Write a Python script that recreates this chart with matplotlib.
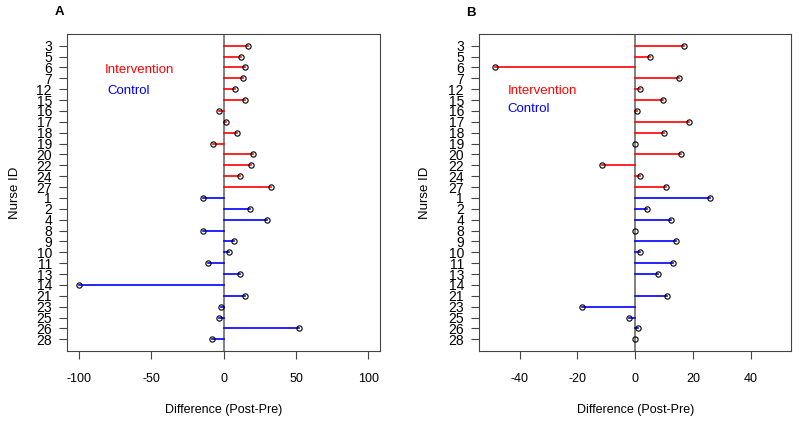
import numpy as np
import matplotlib
matplotlib.use("Agg")
import matplotlib.pyplot as plt

plt.rcParams['font.family'] = ['Liberation Sans', 'DejaVu Sans']

# Nurse IDs, top to bottom
ids_intervention = ["3", "5", "6", "7", "12", "15", "16", "17", "18", "19", "20", "22", "24", "27"]
ids_control = ["1", "2", "4", "8", "9", "10", "11", "13", "14", "21", "23", "25", "26", "28"]

# Panel A differences
diff_a_int = [17, 12, 14.5, 13.5, 8, 15, -3, 2, 9.5, -7.5, 20, 19, 11, 33]
diff_a_ctl = [-14, 18, 30, -14, 7, 3.5, -11, 11, -100, 15, -2, -3, 52, -8]

# Panel B differences (nurse 14 missing)
diff_b_int = [17, 5, -48.5, 15, 1.5, 9.5, 0.5, 18.5, 10, 0, 16, -11.5, 1.5, 10.5]
diff_b_ctl = [26, 4, 12.5, 0, 14, 1.5, 13, 8, np.nan, 11, -18.5, -2, 1, 0]

labels = ids_intervention + ids_control
n = len(labels)
ypos = np.arange(n, 0, -1)  # 28 at top ... 1 at bottom
colors = ["red"] * len(ids_intervention) + ["blue"] * len(ids_control)


def draw_panel(ax, values, lim, ticks, txt_int, txt_ctl, ylab_x):
    values = np.array(values, dtype=float)
    ax.axvline(0, color="#777777", lw=1.3, zorder=1)
    for y, v, c in zip(ypos, values, colors):
        if np.isnan(v):
            continue
        ax.plot([0, v], [y, y], color=c, lw=1.2, zorder=2)
        ax.plot(v, y, marker="o", ms=3.8, mfc="none", mec="black", mew=0.8, zorder=3)
    pad = (ypos.max() - ypos.min()) * 0.04
    ax.set_ylim(ypos.min() - pad, ypos.max() + pad)
    xpad = (lim[1] - lim[0]) * 0.04
    ax.set_xlim(lim[0] - xpad, lim[1] + xpad)
    ax.set_yticks(ypos)
    ax.set_yticklabels(labels, fontsize=10,
                       family=['Liberation Sans Narrow', 'Liberation Sans'])
    ax.set_xticks(ticks)
    ax.set_xticklabels([str(t) for t in ticks], fontsize=9)
    ax.tick_params(axis="both", length=5.5, width=0.8, color="#444444")
    ax.tick_params(axis="x", pad=10)
    ax.tick_params(axis="y", pad=5.5)
    for s in ax.spines.values():
        s.set_color("#444444")
        s.set_linewidth(0.8)
    ax.set_xlabel("Difference (Post-Pre)", fontsize=9, labelpad=14)
    ax.set_ylabel("Nurse ID", fontsize=9.5, va="center")
    ax.yaxis.set_label_coords(ylab_x, 0.5)
    ax.text(txt_int[0], txt_int[1], "Intervention", color="red", fontsize=9.5, va="center")
    ax.text(txt_ctl[0], txt_ctl[1], "Control", color="blue", fontsize=9.5, va="center")


fig = plt.figure(figsize=(8, 4.24), dpi=100)
ax_a = fig.add_axes([0.084, 0.172, 0.391, 0.748])
ax_b = fig.add_axes([0.599, 0.172, 0.390, 0.748])

draw_panel(ax_a, diff_a_int + diff_a_ctl, (-100, 100), [-100, -50, 0, 50, 100],
           (-82, 25.8), (-80.5, 23.85), -0.166)
draw_panel(ax_b, diff_b_int + diff_b_ctl, (-50, 50), [-40, -20, 0, 20, 40],
           (-44, 23.85), (-44.3, 22.2), -0.173)

fig.text(59 / 800, 1 - 12 / 424, "A", fontsize=9.5, fontweight="bold", ha="center", va="center")
fig.text(471 / 800, 1 - 13 / 424, "B", fontsize=9.5, fontweight="bold", ha="center", va="center")

fig.savefig("out.png", dpi=100)
